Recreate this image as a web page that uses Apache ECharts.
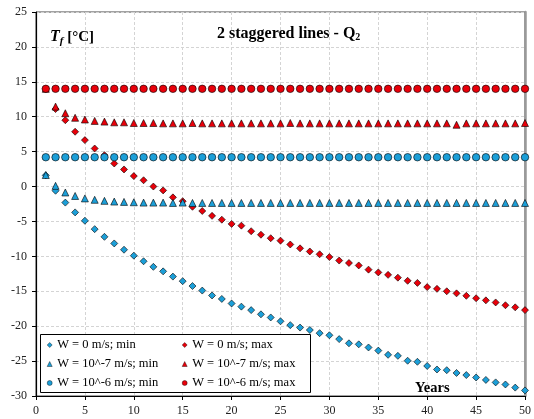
<!DOCTYPE html>
<html>
<head>
<meta charset="utf-8">
<script src="https://cdn.jsdelivr.net/npm/echarts@6/dist/echarts.min.js"></script>
<style>
  html, body { margin: 0; padding: 0; background: #fff; }
  #chart { width: 534px; height: 419px; }
</style>
</head>
<body>
<div id="chart"></div>
<script>
// Years 1..50
const years = Array.from({ length: 50 }, (_, i) => i + 1);

// Fluid temperature Tf [°C] per year
const w0Min = [1.6, -0.6, -2.3, -3.7, -4.9, -6.1, -7.2, -8.15, -9.05, -9.9,
  -10.7, -11.5, -12.15, -12.9, -13.55, -14.25, -14.9, -15.6, -16.1, -16.75,
  -17.2, -17.7, -18.3, -18.75, -19.3, -19.85, -20.2, -20.55, -21.0, -21.3,
  -21.85, -22.45, -22.6, -23.05, -23.5, -24.1, -24.25, -24.95, -25.1, -25.7,
  -26.2, -26.3, -26.7, -27.0, -27.35, -27.7, -28.05, -28.35, -28.8, -29.2];

const w0Max = [14.0, 11.1, 9.5, 7.85, 6.65, 5.45, 4.5, 3.3, 2.45, 1.5,
  0.9, 0.0, -0.55, -1.55, -2.1, -2.9, -3.5, -4.2, -4.75, -5.35,
  -5.6, -6.4, -6.9, -7.4, -7.75, -8.3, -8.85, -9.3, -9.7, -10.1,
  -10.6, -10.95, -11.3, -11.9, -12.3, -12.65, -13.05, -13.5, -13.8, -14.4,
  -14.65, -15.0, -15.3, -15.65, -16.0, -16.3, -16.6, -17.0, -17.3, -17.7];

const w7Min = [1.65, 0.1, -0.85, -1.35, -1.7, -1.9, -2.05, -2.15, -2.2, -2.25,
  -2.3, -2.3, -2.3, -2.35, -2.3, -2.35, -2.35, -2.35, -2.35, -2.35,
  -2.35, -2.35, -2.35, -2.35, -2.35, -2.35, -2.35, -2.35, -2.35, -2.35,
  -2.35, -2.35, -2.35, -2.35, -2.35, -2.35, -2.35, -2.35, -2.35, -2.35,
  -2.35, -2.35, -2.35, -2.35, -2.35, -2.35, -2.35, -2.35, -2.35, -2.35];

const w7Max = [14.0, 11.45, 10.5, 9.85, 9.6, 9.4, 9.3, 9.2, 9.2, 9.1,
  9.1, 9.1, 9.05, 9.05, 9.05, 9.1, 9.05, 9.05, 9.05, 9.05,
  9.05, 9.05, 9.05, 9.05, 9.05, 9.1, 9.05, 9.05, 9.05, 9.05,
  9.05, 9.05, 9.05, 9.05, 9.05, 9.05, 9.05, 9.05, 9.05, 9.05,
  9.05, 9.05, 8.85, 9.05, 9.05, 9.05, 9.05, 9.05, 9.05, 9.1];

const w6Min = Array(50).fill(4.2);
const w6Max = Array(50).fill(14.0);

const seriesNames = [
  'W = 0 m/s; min', 'W = 0 m/s; max',
  'W = 10^-7 m/s; min', 'W = 10^-7 m/s; max',
  'W = 10^-6 m/s; min', 'W = 10^-6 m/s; max'
];
const seriesSymbols = ['diamond', 'diamond', 'triangle', 'triangle', 'circle', 'circle'];

const BLUE = '#1c9fd8';
const RED = '#e8000a';
const seriesColors = [BLUE, RED, BLUE, RED, BLUE, RED];
const SERIF = "'Liberation Serif', 'Times New Roman', 'DejaVu Serif', serif";

function pairs(vals) { return years.map((y, i) => [y, vals[i]]); }

function scatter(idx, vals, size) {
  return {
    name: seriesNames[idx], type: 'scatter', data: pairs(vals),
    symbol: seriesSymbols[idx], symbolSize: size,
    clip: false, z: 5,
    itemStyle: { color: seriesColors[idx], borderColor: '#000', borderWidth: 0.6, opacity: 1 },
    emphasis: { disabled: true }
  };
}

function legendEntry(idx) {
  return {
    name: seriesNames[idx], icon: seriesSymbols[idx],
    itemStyle: { color: seriesColors[idx], borderColor: '#000', borderWidth: 0.4 }
  };
}

const legendCommon = {
  orient: 'vertical', itemWidth: 5, itemHeight: 5, itemGap: 5,
  textStyle: { fontFamily: SERIF, fontSize: 12.5, color: '#000', lineHeight: 14 },
  selectedMode: false, padding: 0
};

const chart = echarts.init(document.getElementById('chart'), null, { renderer: 'canvas' });
chart.setOption({
  animation: false,
  backgroundColor: '#fff',
  grid: { left: 36, right: 3, top: 12, bottom: 23, show: true, borderColor: '#444', borderWidth: 1 },
  title: [
    {
      text: '2 staggered lines - Q{s|2}', left: 212, top: 20,
      textStyle: {
        fontFamily: SERIF, fontSize: 16, fontWeight: 'bold', color: '#000',
        rich: { s: { fontFamily: SERIF, fontSize: 10, fontWeight: 'bold', verticalAlign: 'bottom', padding: [7, 0, 0, 0] } }
      }
    },
    {
      text: '{t|T}{f|f}{r| [°C]}', left: 45, top: 24,
      textStyle: {
        fontFamily: SERIF, fontSize: 15, fontWeight: 'bold', color: '#000',
        rich: {
          t: { fontFamily: SERIF, fontSize: 16, fontWeight: 'bold', fontStyle: 'italic', verticalAlign: 'bottom' },
          f: { fontFamily: SERIF, fontSize: 11, fontWeight: 'bold', fontStyle: 'italic', verticalAlign: 'bottom', padding: [0, 0, -2, 0] },
          r: { fontFamily: SERIF, fontSize: 15, fontWeight: 'bold', verticalAlign: 'bottom' }
        }
      }
    },
    {
      text: 'Years', left: 410, top: 376,
      textStyle: { fontFamily: SERIF, fontSize: 14.5, fontWeight: 'bold', color: '#000' }
    }
  ],
  graphic: [{
    type: 'rect', left: 40, top: 334, z: 90,
    shape: { width: 270, height: 58 },
    style: { fill: '#fff', stroke: '#000', lineWidth: 1 }
  }],
  legend: [
    Object.assign({}, legendCommon, { left: 47, top: 338, z: 100, data: [0, 2, 4].map(legendEntry) }),
    Object.assign({}, legendCommon, { left: 182, top: 338, z: 100, data: [1, 3, 5].map(legendEntry) })
  ],
  xAxis: {
    type: 'value', min: 0, max: 50, interval: 5,
    axisLine: { show: true, onZero: false, lineStyle: { color: '#000', width: 1.2 } },
    axisTick: { show: true, length: 4, lineStyle: { color: '#000' } },
    axisLabel: { fontFamily: SERIF, fontSize: 12, color: '#222', margin: 9 },
    splitLine: { show: true, lineStyle: { color: '#d4d4d4', type: [3, 2], width: 1 } }
  },
  yAxis: [
    {
      type: 'value', min: -30, max: 25, interval: 5,
      axisLine: { show: true, onZero: false, lineStyle: { color: '#000', width: 1.2 } },
      axisTick: { show: true, length: 4, lineStyle: { color: '#000' } },
      axisLabel: { fontFamily: SERIF, fontSize: 12, color: '#222', margin: 9 },
      splitLine: { show: true, lineStyle: { color: '#d4d4d4', type: [3, 2], width: 1 } }
    },
    {
      type: 'value', min: -30, max: 25, interval: 5, position: 'right',
      axisLine: { show: true, onZero: false, lineStyle: { color: '#999', width: 2.5 } },
      axisTick: { show: false }, axisLabel: { show: false }, splitLine: { show: false }
    }
  ],
  series: [
    scatter(0, w0Min, 7),
    scatter(1, w0Max, 7),
    scatter(2, w7Min, 7),
    scatter(3, w7Max, 7),
    scatter(4, w6Min, 7.5),
    scatter(5, w6Max, 7.5)
  ]
});
</script>
</body>
</html>
